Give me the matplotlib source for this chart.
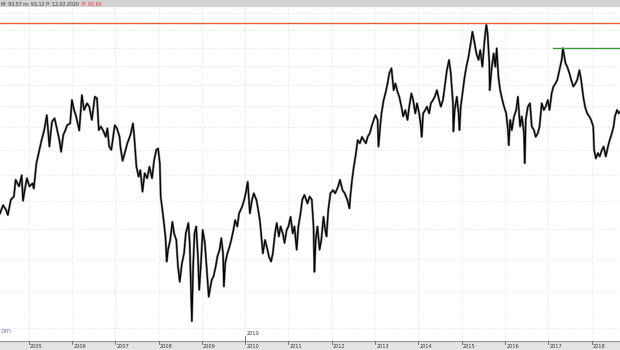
import numpy as np
import matplotlib
matplotlib.use("Agg")
import matplotlib.pyplot as plt

# price path (decimal year, price)
years = [
    2004.34, 2004.41, 2004.48, 2004.52, 2004.59, 2004.66, 2004.70, 2004.78, 2004.84, 2004.87,
    2004.91, 2004.96, 2005.02, 2005.09, 2005.12, 2005.18, 2005.25, 2005.30, 2005.36, 2005.42,
    2005.48, 2005.51, 2005.54, 2005.60, 2005.66, 2005.71, 2005.75, 2005.80, 2005.85, 2005.89,
    2005.96, 2006.00, 2006.05, 2006.09, 2006.17, 2006.23, 2006.28, 2006.35, 2006.40, 2006.46,
    2006.53, 2006.58, 2006.62, 2006.67, 2006.73, 2006.78, 2006.82, 2006.86, 2006.91, 2006.99,
    2007.04, 2007.10, 2007.12, 2007.17, 2007.22, 2007.28, 2007.35, 2007.41, 2007.44, 2007.49,
    2007.54, 2007.58, 2007.63, 2007.68, 2007.74, 2007.79, 2007.85, 2007.90, 2007.95, 2007.99,
    2008.03, 2008.05, 2008.10, 2008.16, 2008.19, 2008.22, 2008.27, 2008.32, 2008.36, 2008.41,
    2008.45, 2008.49, 2008.54, 2008.59, 2008.63, 2008.69, 2008.72, 2008.77, 2008.80, 2008.83,
    2008.87, 2008.91, 2008.94, 2008.98, 2009.02, 2009.07, 2009.11, 2009.16, 2009.20, 2009.23,
    2009.27, 2009.32, 2009.36, 2009.41, 2009.45, 2009.49, 2009.51, 2009.54, 2009.59, 2009.64,
    2009.68, 2009.73, 2009.77, 2009.82, 2009.86, 2009.93, 2009.98, 2010.02, 2010.06, 2010.11,
    2010.16, 2010.20, 2010.26, 2010.29, 2010.34, 2010.37, 2010.41, 2010.46, 2010.50, 2010.55,
    2010.60, 2010.64, 2010.69, 2010.73, 2010.78, 2010.82, 2010.87, 2010.91, 2010.96, 2011.00,
    2011.05, 2011.10, 2011.14, 2011.19, 2011.23, 2011.28, 2011.32, 2011.37, 2011.44, 2011.49,
    2011.54, 2011.58, 2011.60, 2011.63, 2011.67, 2011.72, 2011.76, 2011.81, 2011.85, 2011.88,
    2011.92, 2011.97, 2012.03, 2012.08, 2012.15, 2012.19, 2012.25, 2012.30, 2012.36, 2012.41,
    2012.43, 2012.47, 2012.51, 2012.56, 2012.60, 2012.65, 2012.70, 2012.74, 2012.79, 2012.83,
    2012.88, 2012.92, 2012.97, 2013.01, 2013.06, 2013.08, 2013.12, 2013.15, 2013.20, 2013.24,
    2013.29, 2013.33, 2013.38, 2013.43, 2013.47, 2013.52, 2013.56, 2013.61, 2013.65, 2013.70,
    2013.75, 2013.79, 2013.84, 2013.88, 2013.93, 2013.97, 2014.02, 2014.06, 2014.08, 2014.11,
    2014.16, 2014.20, 2014.25, 2014.29, 2014.34, 2014.38, 2014.43, 2014.48, 2014.52, 2014.57,
    2014.61, 2014.66, 2014.71, 2014.75, 2014.80, 2014.81, 2014.84, 2014.89, 2014.93, 2014.95,
    2014.98, 2015.02, 2015.07, 2015.11, 2015.16, 2015.21, 2015.25, 2015.30, 2015.34, 2015.39,
    2015.43, 2015.48, 2015.53, 2015.57, 2015.60, 2015.64, 2015.65, 2015.69, 2015.74, 2015.78,
    2015.81, 2015.85, 2015.89, 2015.94, 2015.98, 2016.03, 2016.07, 2016.09, 2016.12, 2016.16,
    2016.21, 2016.26, 2016.30, 2016.35, 2016.39, 2016.44, 2016.46, 2016.48, 2016.53, 2016.58,
    2016.62, 2016.67, 2016.71, 2016.76, 2016.80, 2016.85, 2016.90, 2016.94, 2016.99, 2017.03,
    2017.08, 2017.12, 2017.17, 2017.21, 2017.26, 2017.31, 2017.34, 2017.40, 2017.44, 2017.49,
    2017.53, 2017.58, 2017.63, 2017.67, 2017.72, 2017.76, 2017.81, 2017.85, 2017.90, 2017.95,
    2017.99, 2018.04, 2018.06, 2018.10, 2018.15, 2018.19, 2018.24, 2018.28, 2018.33, 2018.38,
    2018.42, 2018.47, 2018.51, 2018.54, 2018.59, 2018.63, 2018.66,
]
prices = [
    67.7, 69.2, 68.3, 67.4, 70.2, 70.8, 74.0, 72.7, 74.9, 70.0,
    72.0, 74.3, 72.7, 73.3, 72.3, 77.3, 80.1, 82.2, 84.4, 87.8,
    80.8, 83.7, 86.3, 87.1, 84.4, 82.2, 79.7, 83.3, 84.4, 85.5,
    85.9, 91.4, 89.0, 87.8, 84.3, 92.6, 89.0, 90.6, 89.8, 86.7,
    92.2, 91.8, 84.4, 85.2, 84.1, 82.9, 84.8, 80.8, 80.1, 85.5,
    84.8, 82.9, 80.8, 77.8, 79.4, 81.5, 83.3, 85.9, 82.9, 76.6,
    74.6, 75.9, 71.7, 75.3, 74.3, 76.6, 74.3, 78.0, 80.1, 80.4,
    77.3, 70.8, 67.7, 63.7, 59.6, 61.5, 63.1, 66.2, 64.2, 63.1,
    58.8, 56.5, 59.3, 60.9, 64.2, 66.0, 62.6, 50.9, 58.8, 64.2,
    65.4, 60.4, 55.3, 59.3, 64.8, 62.6, 58.8, 54.3, 55.8, 56.8,
    57.3, 58.8, 60.4, 61.5, 63.4, 60.9, 55.8, 59.3, 60.9, 62.0,
    63.1, 64.8, 66.5, 65.4, 67.7, 68.9, 70.2, 71.7, 73.6, 67.7,
    70.2, 71.4, 70.2, 68.9, 66.5, 64.2, 60.9, 63.1, 62.0, 60.4,
    59.6, 60.9, 64.2, 66.0, 63.7, 65.4, 64.2, 62.6, 64.8, 65.4,
    67.1, 64.2, 65.4, 61.5, 65.4, 67.7, 70.2, 71.1, 69.5, 70.8,
    70.2, 65.4, 58.0, 63.1, 65.4, 61.5, 63.1, 67.1, 64.8, 63.7,
    68.3, 71.4, 72.0, 71.4, 72.7, 74.0, 72.0, 71.4, 70.2, 68.6,
    70.8, 74.0, 76.6, 79.4, 82.2, 81.5, 82.9, 82.2, 81.5, 82.9,
    83.7, 85.2, 86.7, 87.8, 86.7, 80.8, 85.2, 88.2, 91.4, 93.0,
    95.5, 98.1, 99.4, 93.8, 95.5, 93.4, 92.2, 89.8, 87.5, 89.0,
    86.7, 89.8, 93.0, 91.4, 88.2, 90.6, 88.2, 85.2, 82.9, 88.2,
    89.0, 89.8, 88.2, 90.6, 91.4, 92.2, 93.8, 91.4, 89.8, 91.4,
    94.7, 98.9, 101.6, 98.1, 90.6, 84.1, 89.0, 92.2, 88.2, 84.4,
    89.8, 93.0, 97.2, 99.8, 102.5, 106.2, 109.5, 106.2, 103.4, 101.6,
    104.3, 99.8, 107.1, 111.5, 109.0, 100.7, 93.8, 98.9, 103.4, 99.8,
    104.8, 97.2, 93.8, 91.4, 89.8, 88.2, 84.4, 81.1, 86.7, 84.4,
    87.5, 89.0, 92.2, 85.2, 87.5, 83.7, 77.3, 86.7, 89.8, 90.6,
    85.2, 84.4, 82.9, 83.7, 85.2, 90.6, 89.0, 89.8, 91.4, 89.0,
    93.0, 94.7, 95.5, 96.4, 98.9, 101.6, 104.8, 100.7, 99.8, 98.1,
    96.4, 94.7, 95.5, 96.4, 98.9, 96.4, 92.2, 89.8, 88.2, 87.5,
    86.7, 85.2, 80.1, 78.3, 79.4, 78.7, 80.1, 80.8, 78.7, 80.8,
    82.2, 83.7, 85.2, 87.5, 89.0, 88.2, 88.6,
]

tick_years = list(range(2005, 2019))
grid_levels = list(range(50, 120, 5))
resistance = 112.0
resistance_2 = 105.0
resistance_2_start = 2017.12

x_min, x_max = 2004.339, 2018.658
y_min, y_max = 48.3, 116.9

fig = plt.figure(figsize=(6.2, 3.5), dpi=100)
fig.patch.set_facecolor("white")

# main price panel
ax = fig.add_axes([0, 9 / 350, 1, 334 / 350])
ax.set_yscale("log")
ax.set_xlim(x_min, x_max)
ax.set_ylim(y_min, y_max)
for y in grid_levels:
    ax.axhline(y, color="#dadada", lw=0.6, ls=(0, (1, 2)), zorder=0)
for yr in tick_years:
    ax.axvline(yr, color="#dadada", lw=0.6, ls=(0, (1, 2)), zorder=0)

ax.plot(years, prices, color="#8c8c8c", lw=1.7, zorder=2)
ax.plot(years, prices, color="black", lw=0.9, zorder=3)

ax.axhline(resistance, color="#ee5a2a", lw=1.0, zorder=4)
ax.plot([resistance_2_start, x_max], [resistance_2, resistance_2], color="#3a9a35", lw=1.0, zorder=4)

ax.text(x_min + 0.005, 49.6, "om", color="#8080cc", fontsize=5, va="center", ha="left")
ax.plot([2010, 2010], [y_min, 49.0], color="#555555", lw=0.6)
ax.text(2010.03, 48.9, "2010", fontsize=3.6, color="#333333", va="bottom", ha="left")

for s in ax.spines.values():
    s.set_visible(False)
ax.set_xticks([])
ax.set_yticks([])
ax.minorticks_off()

# top header band
top = fig.add_axes([0, 343 / 350, 1, 7 / 350])
top.set_facecolor("#d3d3d3")
top.set_xticks([])
top.set_yticks([])
for s in top.spines.values():
    s.set_visible(False)
head = top.text(0.002, 0.45, "M: 93,57 m: 93,12 P: 12.02.2020", fontsize=3.4,
                family="Liberation Sans Narrow", color="#333333", va="center", ha="left",
                transform=top.transAxes)
top.annotate("P: 87,62", xy=(1, 0.5), xycoords=head, xytext=(2, 0),
             textcoords="offset points", fontsize=3.4, family="Liberation Sans Narrow",
             color="#e03030", va="center", ha="left")

# bottom date band
bot = fig.add_axes([0, 0, 1, 9 / 350])
bot.set_facecolor("#e4e4e4")
bot.set_xlim(x_min, x_max)
bot.set_ylim(0, 1)
bot.set_xticks([])
bot.set_yticks([])
for s in bot.spines.values():
    s.set_visible(False)
bot.axhline(1, color="#9a9a9a", lw=1.0)
for yr in tick_years:
    bot.plot([yr, yr], [0.62, 1.0], color="#666666", lw=0.6)
    bot.text(yr + 0.03, 0.42, str(yr), fontsize=3.6, color="#333333",
             va="center", ha="left")

fig.savefig("out.png", dpi=100, facecolor="white")
